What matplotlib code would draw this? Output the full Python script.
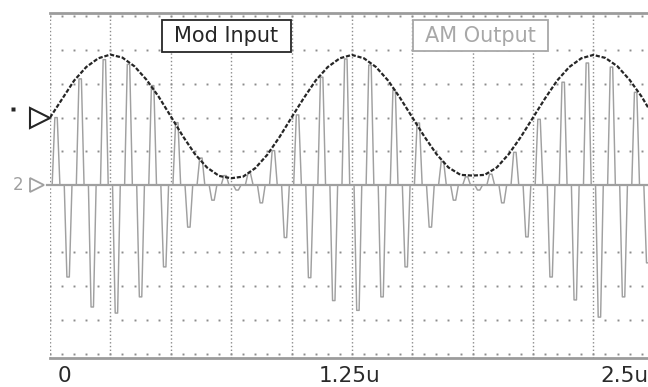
import matplotlib
matplotlib.use("Agg")
import matplotlib.pyplot as plt
import matplotlib.transforms as mtransforms
from matplotlib.patches import Rectangle
import numpy as np

plt.rcParams['lines.scale_dashes'] = False

traceColor = "#a0a0a0"
modColor = "#262626"
gridColor = "#8c8c8c"
borderColor = "#9c9c9c"
labelColor = "#2a2a2a"

# time in microseconds, vertical in scope divisions (ch2 baseline = 0)
sample_step = 0.05

# Mod Input (channel 1, offset +2 div), read every 0.05u
mod_input = [2.00, 2.55, 3.10, 3.50, 3.76, 3.87, 3.78, 3.52, 3.12, 2.62,
             2.04, 1.45, 0.92, 0.52, 0.27, 0.20, 0.25, 0.50, 0.90, 1.42,
             2.00, 2.57, 3.10, 3.50, 3.76, 3.86, 3.76, 3.50, 3.10, 2.58,
             2.01, 1.44, 0.92, 0.52, 0.30, 0.28, 0.30, 0.52, 0.92, 1.43,
             2.00, 2.57, 3.10, 3.50, 3.76, 3.86, 3.77, 3.52, 3.12, 2.62,
             2.02]
mod_time = np.arange(len(mod_input)) * sample_step

# AM Output (channel 2), carrier peaks read from each half cycle
am_peaks = [2.00, -2.73, 3.15, -3.62, 3.72, -3.80, 3.58, -3.32, 2.95, -2.43,
            1.85, -1.25, 0.80, -0.45, 0.28, -0.15, 0.35, -0.53, 1.02, -1.56,
            2.08, -2.75, 3.20, -3.43, 3.74, -3.72, 3.56, -3.32, 2.82, -2.43,
            1.84, -1.25, 0.70, -0.45, 0.24, -0.15, 0.32, -0.53, 0.97, -1.54,
            1.95, -2.73, 3.05, -3.41, 3.62, -3.92, 3.50, -3.32, 2.75, -2.31]
peak_times = 0.025 + np.arange(len(am_peaks)) * sample_step

# each carrier peak drawn as a thin spike off the baseline
spike_offsets = np.array([-0.016, -0.005, 0.005, 0.016])
spike_shape = np.array([0.0, 1.0, 1.0, 0.0])
am_time = (peak_times[:, None] + spike_offsets).ravel()
am_values = (np.array(am_peaks)[:, None] * spike_shape).ravel()

tick_times = [0.03, 1.242, 2.277]
tick_labels = ["0", "1.25u", "2.5u"]
tick_align = ["left", "center", "left"]

grid_times = np.arange(0, 2.5, 0.25)
grid_levels = [5, 4, 3, 2, 1, -2, -3, -4, -5]

px_per_u = 241.5
px_per_div = 33.7

fig = plt.figure(figsize=(6.48, 3.87), dpi=100)
fig.patch.set_facecolor("white")
ax = fig.add_axes([50 / 648, (387 - 358) / 387, 598 / 648, 345 / 387])
ax.set_xlim(0, 598 / px_per_u)
ytop = (185 - 13) / px_per_div
ybot = (185 - 358) / px_per_div
ax.set_ylim(ybot, ytop)
ax.axis('off')

# dotted grid
dot_times = np.arange(0, 2.5, 0.05)
for lvl in grid_levels:
    ax.plot(dot_times, [lvl] * len(dot_times), linestyle='none', marker='s',
            ms=1.4, mfc=gridColor, mec='none', zorder=1)
for t in grid_times:
    ax.axvline(t, color=gridColor, lw=1.0, dashes=(1.0, 1.7), zorder=1)

# screen borders
ax.axhline(ytop, color=borderColor, lw=2.0, clip_on=False, zorder=2)
ax.axhline(ybot, color=borderColor, lw=2.0, clip_on=False, zorder=2)

# channel 2 baseline
ax.axhline(0, xmin=-0.005, xmax=1, color=traceColor, lw=1.6, clip_on=False, zorder=2)

# traces
ax.plot(am_time, am_values, color=traceColor, lw=1.05, zorder=3)
ax.plot(mod_time, mod_input, color=modColor, lw=1.6, dashes=(3.0, 1.3), zorder=4)

# time labels
for t, lab, ha in zip(tick_times, tick_labels, tick_align):
    ax.text(t, (185 - 375.5) / px_per_div, lab,
            ha=ha, va='center', fontsize=15.5, color=labelColor, clip_on=False)

# channel markers
blend = mtransforms.blended_transform_factory(ax.transAxes, ax.transData)
ax.plot([-10 / 598], [2.0], marker='>', ms=15, mfc='white', mec=modColor, mew=1.5,
        transform=blend, clip_on=False, zorder=5)
ax.plot([-37 / 598], [2.26], marker='s', ms=2.2, mfc=modColor, mec='none',
        transform=blend, clip_on=False, zorder=5)
ax.plot([-13 / 598], [0.0], marker='>', ms=10, mfc='white', mec=traceColor, mew=1.3,
        transform=blend, clip_on=False, zorder=5)
ax.text(-32 / 598, 0.0, "2", transform=blend, ha='center', va='center',
        fontsize=12, color=traceColor, clip_on=False)

# legend boxes
ov = fig.add_axes([0, 0, 1, 1])
ov.set_xlim(0, 648)
ov.set_ylim(387, 0)
ov.axis('off')
ov.patch.set_alpha(0)
ov.add_patch(Rectangle((162, 20), 129, 32, fc='white', ec=modColor, lw=1.3))
ov.text(226.5, 36.5, "Mod Input", ha='center', va='center', fontsize=15, color=modColor)
ov.add_patch(Rectangle((413, 20), 135, 31, fc='white', ec='#a8a8a8', lw=1.3))
ov.text(480.5, 36, "AM Output", ha='center', va='center', fontsize=15, color='#a8a8a8')

fig.savefig("out.png", dpi=100)
